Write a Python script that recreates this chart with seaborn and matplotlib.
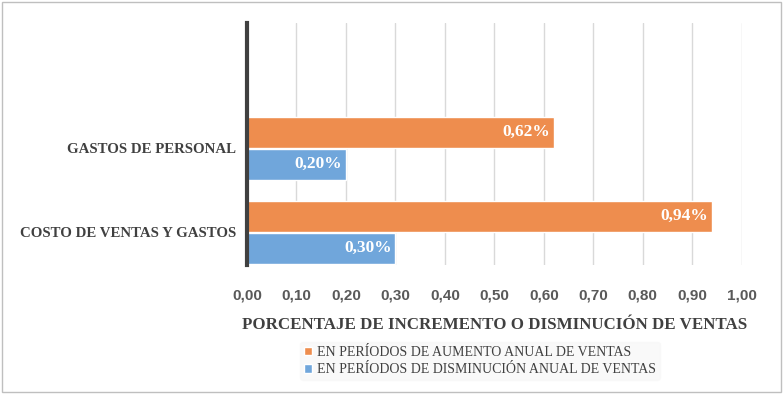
import pandas as pd
import seaborn as sns
import matplotlib.pyplot as plt
from matplotlib.patches import Rectangle

categories = ["GASTOS DE PERSONAL", "COSTO DE VENTAS Y GASTOS"]
series_names = [
    "EN PERÍODOS DE AUMENTO ANUAL DE VENTAS",
    "EN PERÍODOS DE DISMINUCIÓN ANUAL DE VENTAS",
]
aumento = [0.62, 0.94]
disminucion = [0.20, 0.30]
xticks = [0.0, 0.1, 0.2, 0.3, 0.4, 0.5, 0.6, 0.7, 0.8, 0.9, 1.0]
xtick_labels = ["0,00", "0,10", "0,20", "0,30", "0,40", "0,50",
                "0,60", "0,70", "0,80", "0,90", "1,00"]
xlabel = "PORCENTAJE DE INCREMENTO O DISMINUCIÓN DE VENTAS"
colors = ["#EE8D4E", "#70A6DB"]

df = pd.DataFrame({
    "categoria": categories * 2,
    "serie": [series_names[0]] * 2 + [series_names[1]] * 2,
    "valor": aumento + disminucion,
})

sns.set_style("white")
serif = ["Liberation Serif", "DejaVu Serif"]

fig = plt.figure(figsize=(7.84, 3.94), dpi=100)
ax = fig.add_axes([0.315, 0.327, 0.631, 0.615])

sns.barplot(data=df, y="categoria", x="valor", hue="serie", orient="h",
            palette=colors, saturation=1, width=0.76, gap=0.03, ax=ax,
            legend=True)

ax.set_xlim(0, 1.0)
ax.set_ylim(1.39, -1.49)
ax.set_xticks(xticks)
ax.set_xticklabels(xtick_labels, fontfamily="Liberation Sans",
                   fontweight="bold", fontsize=11, color="#595959")
ax.tick_params(axis="x", length=0, pad=17)
ax.tick_params(axis="y", length=0, pad=8)
for lbl in ax.get_yticklabels():
    lbl.set_fontfamily(serif)
    lbl.set_fontweight("bold")
    lbl.set_fontsize(10.7)
    lbl.set_color("#404040")
ax.set_ylabel("")
ax.set_xlabel(xlabel, fontfamily=serif, fontweight="bold", fontsize=12.2,
              color="#404040", labelpad=10)

ax.grid(axis="x", color="#D9D9D9", linewidth=1)
ax.set_axisbelow(True)
for side in ["top", "right", "bottom"]:
    ax.spines[side].set_visible(False)
ax.spines["left"].set_color("#404040")
ax.spines["left"].set_linewidth(3)

for container in ax.containers:
    labels = [f"{v:.2f}%".replace(".", ",") for v in container.datavalues]
    ax.bar_label(container, labels=labels, padding=-37, color="white",
                 fontfamily=serif, fontweight="bold", fontsize=12.5)

handles, labs = ax.get_legend_handles_labels()
ax.legend_.remove()
leg = fig.legend(handles, labs, loc="center", bbox_to_anchor=(0.612, 0.084),
                 ncol=1, frameon=True, handlelength=0.6,
                 handleheight=0.6, handletextpad=0.3, labelspacing=0.3,
                 borderpad=0.3, borderaxespad=0,
                 prop={"family": serif, "size": 10})
leg.get_frame().set_facecolor("#F8F8F8")
leg.get_frame().set_edgecolor("#F8F8F8")
for t in leg.get_texts():
    t.set_color("#404040")

fig.patches.append(Rectangle((0.003, 0.005), 0.993, 0.99, transform=fig.transFigure,
                             fill=False, edgecolor="#BFBFBF", linewidth=1))

fig.savefig("out.png", dpi=100)
